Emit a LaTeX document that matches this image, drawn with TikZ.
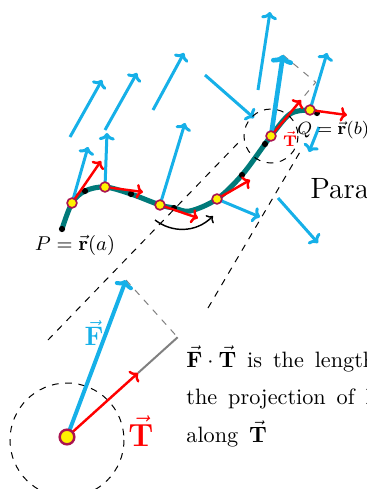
\documentclass[tikz,border=0pt]{standalone}
\usepackage{amsmath,amssymb}
\usepackage{tikz}
\usetikzlibrary{arrows.meta,calc}
\definecolor{fieldcyan}{RGB}{22,176,232}
\definecolor{curveteal}{RGB}{0,122,122}
\definecolor{knotrim}{RGB}{170,20,80}
\newcommand{\vF}{\vec{\mathbf{F}}}
\newcommand{\vT}{\vec{\mathbf{T}}}
\newcommand{\rv}{\vec{\mathbf{r}}}
\newcommand{\widespace}{\spaceskip=4.9pt\relax}

\begin{document}
\begin{tikzpicture}[x=0.45pt,y=-0.45pt,
  field/.style={draw=fieldcyan,line width=1.35pt,-{Computer Modern Rightarrow[length=3.3pt,width=7.2pt]}},
  unitvec/.style={draw=red,line width=1.1pt,-{Computer Modern Rightarrow[length=3pt,width=6.6pt]}},
  knot/.style={circle,draw=knotrim,fill=yellow,line width=0.75pt,inner sep=0pt,minimum size=4.4pt},
  blackdot/.style={circle,fill=black,inner sep=0pt,minimum size=2.8pt},
  zoomline/.style={dashed,line width=0.45pt},
  note/.style={anchor=base west,inner sep=0pt,font=\widespace}]
  \useasboundingbox (0,0) rectangle (367,489);
  \clip (0,0) rectangle (367,489);

  % field away from the curve
  \foreach \xa/\ya/\xb/\yb in {70/137/102/80, 105/130/137/73, 153/110/184/53, 205/75/254/118,
      258/90/270/12, 319/127/309/152, 278/198/318/243}
    \draw[field] (\xa,\ya) -- (\xb,\yb);

  % the curve from P to Q
  \draw[curveteal,line width=2.3pt,line cap=round] plot[smooth,tension=0.55] coordinates
    {(62,229) (72,203) (85,191) (105,187) (131,194) (160,205) (174,208) (190,211)
     (217,199) (242,175) (265,144) (271,136) (290,114) (310,110) (317,113)};
  \foreach \p [count=\i] in {(62,229),(85,191),(131,194),(174,208),(242,175),(265,144),(317,113)}
    \node[blackdot] (d\i) at \p {};

  \coordinate (m1) at (72,203);  \coordinate (f1) at (88,147);  \coordinate (t1) at (101,161);
  \coordinate (m2) at (105,187); \coordinate (f2) at (107,133); \coordinate (t2) at (143,192);
  \coordinate (m3) at (160,205); \coordinate (f3) at (185,123); \coordinate (t3) at (198,218);
  \coordinate (m4) at (217,199); \coordinate (f4) at (260,217); \coordinate (t4) at (250,180);
  \coordinate (m5) at (271,136); \coordinate (f5) at (283,55);  \coordinate (t5) at (301,100);
  \coordinate (m6) at (310,110); \coordinate (f6) at (327,53);  \coordinate (t6) at (347,115);

  % projection at the zoomed knot
  \coordinate (p5) at ($(m5)!(f5)!(t5)$);
  \draw[gray,dashed,line width=0.45pt] (f5) -- (p5) -- (t5);

  \foreach \i in {1,2,3,4,6}
    \draw[field] (m\i) -- (f\i);
  \draw[draw=fieldcyan,line width=2.1pt,-{Computer Modern Rightarrow[length=4pt,width=10pt]}] (m5) -- (f5);
  \foreach \i in {1,...,6}
    \draw[unitvec] (m\i) -- (t\i);
  \foreach \i in {1,...,6}
    \node[knot] (k\i) at (m\i) {};

  % direction of travel
  \coordinate (a1) at (155,220);
  \coordinate (a2) at (213,216);
  \draw[line width=0.65pt,-{Computer Modern Rightarrow[length=2.4pt,width=5pt]}]
    (a1) .. controls (172,233) and (196,233) .. (a2);

  \node[font=\small,inner sep=0pt] (plabel) at (75,245) {$P=\rv(a)$};
  \node[font=\footnotesize,anchor=west,inner sep=0pt] (qlabel) at (297,130) {$Q=\rv(b)$};
  \node[font=\scriptsize,text=red,inner sep=0pt] (tsmall) at (290,139) {$\vT$};
  \node[font=\fontsize{13.2pt}{16pt}\selectfont,anchor=base west,inner sep=0pt] (para) at (310,198) {Para};

  % zoom circles and cone
  \draw[zoomline] (m5) circle (27);
  \coordinate (o) at (67,437);
  \draw[zoomline] (67,440) circle (57);
  \coordinate (zl1) at (48,340); \coordinate (zu1) at (240,141);
  \coordinate (zl2) at (208,308); \coordinate (zu2) at (300,152);
  \draw[zoomline] (zl1) -- (zu1);
  \draw[zoomline] (zl2) -- (zu2);

  % magnified projection
  \coordinate (fbig) at (126,280);
  \coordinate (tbig) at (138,373);
  \coordinate (pbig) at ($(o)!(fbig)!(tbig)$);
  \draw[gray,line width=0.9pt] (tbig) -- (pbig);
  \draw[gray,dashed,line width=0.45pt] (fbig) -- (pbig);
  \draw[draw=fieldcyan,line width=1.8pt,-{Computer Modern Rightarrow[length=3.6pt,width=8.6pt]}] (o) -- (fbig);
  \draw[draw=red,line width=1.1pt,-{Computer Modern Rightarrow[length=3pt,width=6.8pt]}] (o) -- (tbig);
  \node[circle,draw=knotrim,fill=yellow,line width=1.1pt,inner sep=0pt,minimum size=6.6pt] (kbig) at (o) {};
  \node[font=\large,text=fieldcyan] (flabel) at (94,333) {$\vF$};
  \node[font=\Large,text=red] (tlabel) at (141,431) {$\vT$};

  \node[note] (line1) at (186,367) {$\vF\cdot\vT$ is the length};
  \node[note] (line2) at (186,404) {the projection of $\vF$};
  \node[note] (line3) at (186,442) {along $\vT$};
\end{tikzpicture}
\end{document}
